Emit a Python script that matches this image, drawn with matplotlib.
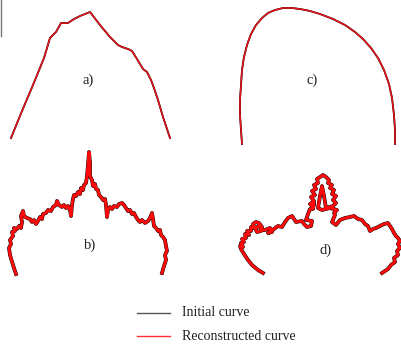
import matplotlib
matplotlib.use("Agg")
import matplotlib.pyplot as plt

# Curve a) (pixel-space data read from picture)
a_x = [11, 22, 33, 44, 50, 56, 61, 68, 74, 80, 85, 90, 100, 110, 118, 122, 128, 132, 137, 143, 147, 151, 154, 158, 163, 170]
a_y = [138, 111, 85, 58, 38, 32, 23, 23, 19, 16, 14, 12, 25, 37, 45, 47, 49, 51, 59, 69, 72, 80, 88, 100, 117, 138]

# Curve c)
c_x = [242, 241, 240, 240, 241, 242, 244, 247, 251, 256, 262, 268, 275, 283, 292, 300, 310, 320, 333, 345, 355, 363, 371, 378,
       384, 389, 392, 394, 395, 395]
c_y = [144, 130, 115, 100, 85, 70, 57, 45, 34, 25, 18, 13, 10, 8, 8, 9, 11, 14, 19, 25, 32, 39, 48, 58, 70, 84, 98, 115, 130, 144]

# Curve b)
b_x = [16, 13, 10, 9, 11, 10, 13, 12, 15, 14, 17, 19, 21, 22, 21, 23, 24, 27, 30, 32, 34, 36, 38, 40, 42, 43, 46, 48, 51, 53, 56, 57, 59, 62,
       64, 66, 68, 70, 71, 72, 73, 74, 76, 78, 80, 81, 83, 84, 86, 87, 88, 89, 90, 90, 92, 93, 95, 96, 98, 99, 101, 103, 105, 106, 107,
       108, 110, 112, 114, 117, 119, 122, 124, 126, 128, 130, 132, 134, 136, 138, 140, 142, 145, 148, 150, 152, 153, 154, 156, 158, 160,
       161, 163, 165, 166, 167, 165, 166, 164, 162]
b_y = [274, 265, 255, 248, 244, 240, 236, 232, 231, 228, 229, 226, 228, 222, 216, 211, 216, 218, 219, 222, 220, 224, 221, 217, 219, 214,
       213, 210, 211, 207, 205, 201, 205, 207, 205, 208, 206, 210, 216, 205, 199, 195, 196, 192, 194, 188, 190, 185, 183, 176, 165, 152,
       163, 176, 180, 186, 184, 189, 190, 195, 197, 200, 199, 205, 217, 210, 207, 209, 206, 207, 204, 203, 205, 208, 211, 210, 214, 213,
       217, 220, 222, 220, 223, 221, 218, 213, 219, 226, 228, 231, 230, 235, 237, 240, 246, 251, 255, 260, 266, 273]

# Curve d)
d_x = [263, 258, 252, 248, 244, 241, 240, 243, 241, 244, 242, 246, 245, 249, 247, 251, 251, 254, 253, 256, 259, 262, 261, 257, 255,
       259, 262, 265, 270, 272, 268, 274, 278, 282, 285, 288, 292, 296, 302, 304, 307, 311, 312, 306, 308, 310, 313, 314,
       313, 310, 314, 311, 315, 312, 316, 314, 318, 317, 320, 323, 326, 329, 328, 332, 330, 334, 332, 336, 333, 336, 333,
       326, 324, 322, 320, 318, 322, 330, 337, 334,
       335, 332, 336, 340, 345, 350, 354, 358, 362, 365, 368, 370, 373, 376, 380, 384, 388, 390, 392, 394, 396, 398, 400,
       398, 400, 397, 398, 394, 395, 391, 388, 382]
d_y = [273, 270, 265, 260, 254, 249, 246, 247, 243, 242, 239, 238, 234, 235, 231, 231, 227, 228, 224, 222, 223, 227, 231, 232, 228,
       226, 230, 230, 228, 232, 233, 229, 226, 227, 222, 218, 216, 222, 221, 224, 227, 226, 221, 220, 214, 209, 209, 203,
       207, 204, 201, 197, 195, 191, 189, 185, 183, 179, 177, 175, 177, 180, 183, 185, 188, 190, 194, 196, 200, 203, 206,
       208, 196, 186, 196, 208, 210, 208, 210, 213,
       215, 222, 225, 220, 218, 217, 216, 219, 220, 224, 226, 231, 229, 228, 226, 224, 223, 226, 229, 233, 236, 238, 241,
       244, 248, 251, 255, 258, 262, 265, 269, 273]

legend_labels = ["Initial curve", "Reconstructed curve"]
panel_labels = ["a)", "b)", "c)", "d)"]

fig = plt.figure(figsize=(4.01, 3.44), dpi=100)
ax = fig.add_axes([0, 0, 1, 1])
ax.set_xlim(0, 401)
ax.set_ylim(344, 0)
ax.axis("off")

# small artifact at top left
ax.plot([0.6, 0.6], [0, 36], color="#777777", lw=1.0)

for xs, ys in [(a_x, a_y), (c_x, c_y)]:
    ax.plot(xs, ys, color="black", lw=1.3)
    ax.plot(xs, ys, color="#e8141a", lw=1.1)

for xs, ys in [(b_x, b_y), (d_x, d_y)]:
    ax.plot(xs, ys, color="black", lw=2.7, solid_joinstyle="round")
    ax.plot(xs, ys, color="#ff0a0a", lw=2.1, solid_joinstyle="round")

serif = ["Liberation Serif", "DejaVu Serif"]
for lab, (x, y) in zip(panel_labels, [(88, 80), (90, 245), (312, 80), (326, 250)]):
    ax.text(x, y, lab, fontsize=10.5, family=serif, ha="center", va="center", color="#222222")

ax.plot([137, 170], [313, 313], color="#555555", lw=1.0)
ax.plot([137, 170], [336, 336], color="#ff3030", lw=1.0)
ax.text(182, 313, legend_labels[0], fontsize=10, family=serif, va="center", color="#222222")
ax.text(182, 336, legend_labels[1], fontsize=10, family=serif, va="center", color="#222222")

fig.savefig("out.png", dpi=100)
